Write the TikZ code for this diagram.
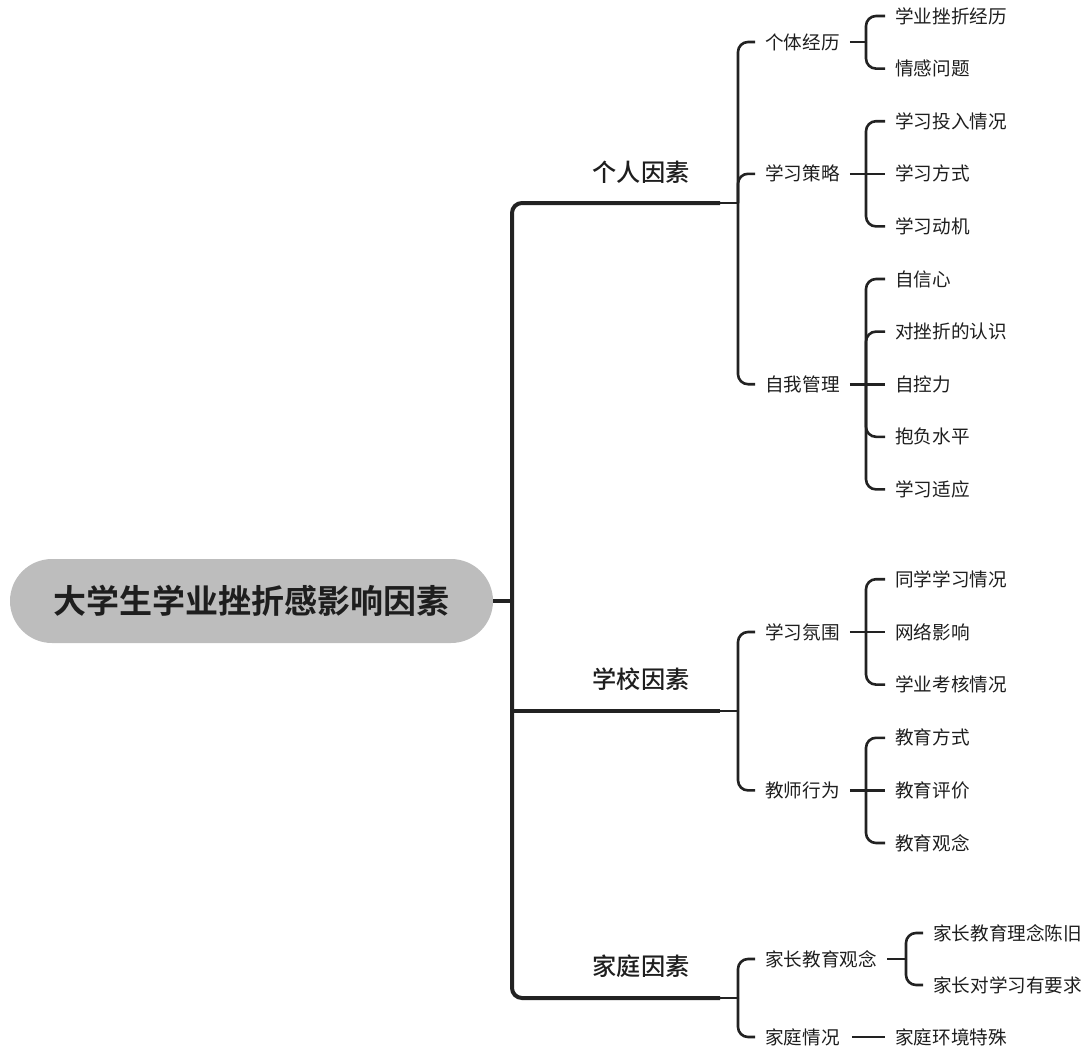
\documentclass[tikz,border=0pt]{standalone}
\usepackage{fontspec}
\newfontfamily\cjk{Noto Sans CJK SC}
\newfontfamily\cjkb{Noto Sans CJK SC Bold}
\newfontfamily\cjkm{Noto Sans CJK SC Medium}
\definecolor{ln}{HTML}{222222}
\definecolor{tx}{HTML}{1E1E1E}
\definecolor{rootfill}{HTML}{BDBDBD}
\tikzset{
  txt/.style={inner sep=0pt, text=tx},
  leaf/.style={txt, anchor=west, text height=16.3pt, text depth=2.2pt, font=\cjk\fontsize{18.6}{20}\selectfont},
  mid/.style={leaf},
  topic/.style={txt, anchor=center, text height=21.3pt, text depth=2.9pt, font=\cjkm\fontsize{24.2}{26}\selectfont},
  rootnode/.style={txt, fill=rootfill, rounded corners=42pt, minimum width=483pt, minimum height=84pt, text height=29pt, text depth=4pt, font=\cjkb\fontsize{33}{36}\selectfont},
  lone/.style={draw=ln, line width=4pt},
  ltwo/.style={draw=ln, line width=2.6pt},
  rc/.style={rounded corners=10pt},
}
\begin{document}
\begin{tikzpicture}[x=1pt,y=-1pt]
\useasboundingbox (0,0) rectangle (1092,1052);
% root
\node[rootnode] (root) at (251.5,601) {大学生学业挫折感影响因素};
\coordinate (sp) at (512,601);
% level 1
\node[topic] (p) at (641,172) {个人因素};
\node[topic] (s) at (641,679) {学校因素};
\node[topic] (f) at (641,966) {家庭因素};
\coordinate (pe) at (720,203); \coordinate (pj) at (738,203);
\coordinate (se) at (720,711); \coordinate (sj) at (738,711);
\coordinate (fe) at (720,998); \coordinate (fj) at (738,998);
% level 2
\node[mid] (p1) at (765,42) {个体经历};
\node[mid] (p2) at (765,173.8) {学习策略};
\node[mid] (p3) at (765,384.2) {自我管理};
\node[mid] (s1) at (765,632) {学习氛围};
\node[mid] (s2) at (765,790.4) {教师行为};
\node[mid] (f1) at (765,959) {家长教育观念};
\node[mid] (f2) at (765,1037) {家庭情况};
% leaves
\node[leaf] (p1a) at (895,16) {学业挫折经历};
\node[leaf] (p1b) at (895,68.6) {情感问题};
\node[leaf] (p2a) at (895,121.2) {学习投入情况};
\node[leaf] (p2b) at (895,173.8) {学习方式};
\node[leaf] (p2c) at (895,226.4) {学习动机};
\node[leaf] (p3a) at (895,279) {自信心};
\node[leaf] (p3b) at (895,331.6) {对挫折的认识};
\node[leaf] (p3c) at (895,384.2) {自控力};
\node[leaf] (p3d) at (895,436.8) {抱负水平};
\node[leaf] (p3e) at (895,489.4) {学习适应};
\node[leaf] (s1a) at (895,579.2) {同学学习情况};
\node[leaf] (s1b) at (895,632) {网络影响};
\node[leaf] (s1c) at (895,684.6) {学业考核情况};
\node[leaf] (s2a) at (895,737.8) {教育方式};
\node[leaf] (s2b) at (895,790.4) {教育评价};
\node[leaf] (s2c) at (895,843) {教育观念};
\node[leaf] (f1a) at (933,933) {家长教育理念陈旧};
\node[leaf] (f1b) at (933,985) {家长对学习有要求};
\node[leaf] (f2a) at (895,1037) {家庭环境特殊};
% root connectors
\draw[lone] (root.east) -- (sp);
\draw[lone,rc] (sp) |- (pe);
\draw[lone,rc] (sp) |- (fe);
\draw[lone] (sp) |- (se);
\draw[ltwo] (pe) -- (pj);
\draw[ltwo] (se) -- (sj);
\draw[ltwo] (fe) -- (fj);
% level 2 connectors
\foreach \j/\c in {pj/p1,pj/p2,pj/p3,sj/s1,sj/s2,fj/f1,fj/f2}
  \draw[ltwo,rc] (\j) |- ([xshift=-10pt]\c.west);
% junctions for leaves
\coordinate (p1j) at (866,42);
\coordinate (p2j) at (866,173.8);
\coordinate (p3j) at (866,384.2);
\coordinate (s1j) at (866,632);
\coordinate (s2j) at (866,790.4);
\coordinate (f1j) at (906,959);
\foreach \c/\j in {p1/p1j,p2/p2j,p3/p3j,s1/s1j,s2/s2j,f1/f1j}
  \draw[ltwo] ([xshift=10pt]\c.east) -- (\j);
\foreach \j/\c in {p1j/p1a,p1j/p1b,p2j/p2a,p2j/p2c,p3j/p3a,p3j/p3b,p3j/p3d,p3j/p3e,s1j/s1a,s1j/s1c,s2j/s2a,s2j/s2c,f1j/f1a,f1j/f1b}
  \draw[ltwo,rc] (\j) |- ([xshift=-10pt]\c.west);
\foreach \j/\c in {p2j/p2b,p3j/p3c,s1j/s1b,s2j/s2b}
  \draw[ltwo] (\j) -- ([xshift=-10pt]\c.west);
\draw[ltwo] ([xshift=12pt]f2.east) -- ([xshift=-10pt]f2a.west);
\end{tikzpicture}
\end{document}
